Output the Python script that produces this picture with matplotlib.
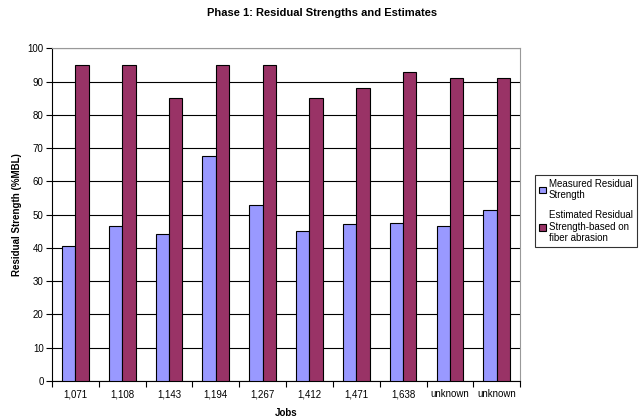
import numpy as np
import matplotlib.pyplot as plt

plt.rcParams["font.family"] = ["Liberation Sans", "DejaVu Sans"]

# Residual strength per job (% of minimum breaking load)
jobs = ["1,071", "1,108", "1,143", "1,194", "1,267", "1,412", "1,471", "1,638",
        "unknown", "unknown"]
measured = [40.5, 46.5, 44.1, 67.6, 52.8, 45.0, 47.1, 47.6, 46.6, 51.3]
estimated = [95, 95, 85, 95, 95, 85, 88, 93, 91, 91]

blue = "#9999FF"
purple = "#993366"

fig = plt.figure(figsize=(6.44, 4.2), dpi=100)
ax = fig.add_axes([0.0807, 0.0929, 0.727, 0.792])

x = np.arange(len(jobs))
width = 0.285
ax.bar(x - width / 2, measured, width, color=blue, edgecolor="black",
       linewidth=0.8, label="Measured Residual\nStrength", zorder=3)
ax.bar(x + width / 2, estimated, width, color=purple, edgecolor="black",
       linewidth=0.8, label="Estimated Residual\nStrength-based on\nfiber abrasion",
       zorder=3)

ax.set_xlim(-0.5, len(jobs) - 0.5)
ax.set_ylim(0, 100)
ax.set_yticks(range(0, 101, 10))
ax.yaxis.grid(True, color="black", linewidth=0.8, zorder=0)

# category labels centred, tick marks between categories
ax.set_xticks(x)
ax.set_xticklabels(jobs)
ax.set_xticks(np.arange(-0.5, len(jobs)), minor=True)
ax.tick_params(axis="x", which="major", length=0, pad=6, labelsize=7)
ax.tick_params(axis="x", which="minor", length=4, width=0.8, direction="out")
ax.tick_params(axis="y", length=4, width=0.8, labelsize=7, pad=2)

for side in ["top", "right"]:
    ax.spines[side].set_color("#999999")
    ax.spines[side].set_linewidth(0.8)
for side in ["left", "bottom"]:
    ax.spines[side].set_color("black")
    ax.spines[side].set_linewidth(0.8)

ax.set_xlabel("Jobs", fontsize=7, fontweight="bold", labelpad=6)
ax.set_ylabel("Residual Strength (%MBL)", fontsize=7, fontweight="bold", labelpad=4)
fig.suptitle("Phase 1: Residual Strengths and Estimates", fontsize=8,
             fontweight="bold", y=0.98)

leg = ax.legend(loc="upper left", bbox_to_anchor=(1.032, 0.62), fontsize=7,
                frameon=True, fancybox=False, edgecolor="black",
                handlelength=0.7, handleheight=0.7, handletextpad=0.3,
                labelspacing=1.0, borderpad=0.4, borderaxespad=0)
leg.get_frame().set_linewidth(0.8)

fig.savefig("out.png", dpi=100)
